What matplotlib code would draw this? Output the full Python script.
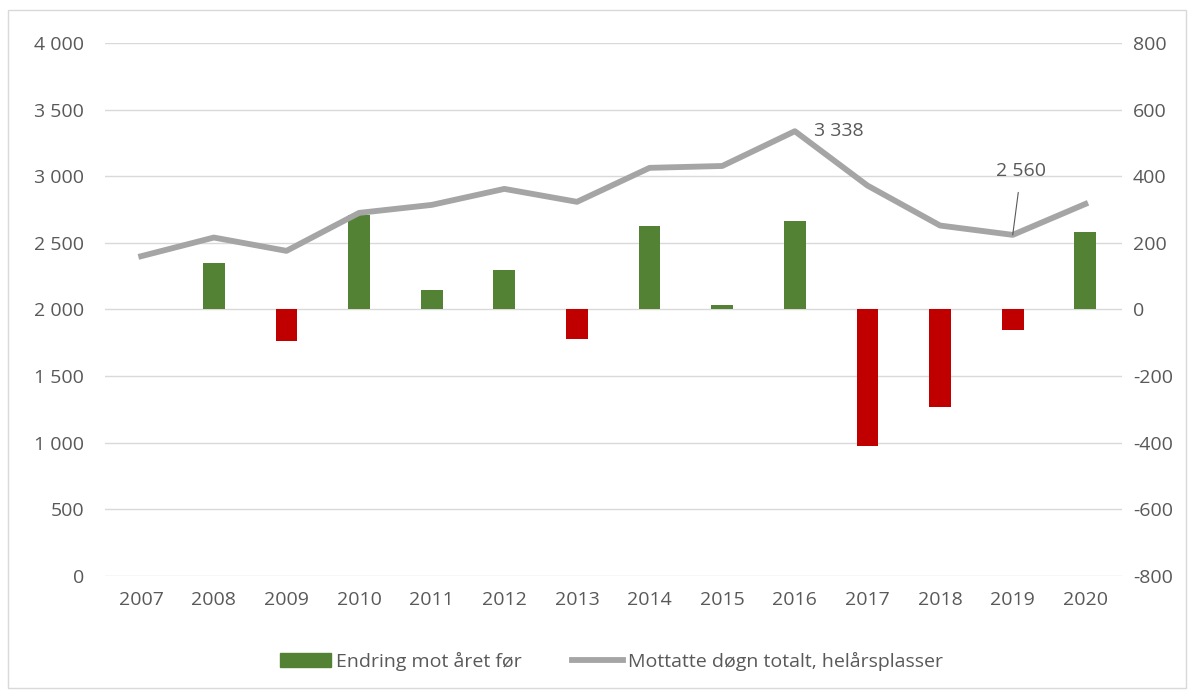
import matplotlib.pyplot as plt
from matplotlib.ticker import FuncFormatter, MultipleLocator
from matplotlib.patches import Rectangle

years = ["2007", "2008", "2009", "2010", "2011", "2012", "2013",
         "2014", "2015", "2016", "2017", "2018", "2019", "2020"]
totals = [2400, 2540, 2440, 2725, 2785, 2905, 2808,
          3063, 3077, 3338, 2930, 2630, 2560, 2792]
change = [None, 140, -95, 285, 60, 120, -90,
          250, 15, 265, -410, -293, -63, 232]

green = "#548235"
red = "#C00000"
gray = "#A5A5A5"
txt = "#595959"
fs = 14

plt.rcParams["font.family"] = ["Open Sans", "DejaVu Sans"]

fig = plt.figure(figsize=(11.92, 6.91), dpi=100)
fig.patches.append(Rectangle((0.007, 0.005), 0.988, 0.98, transform=fig.transFigure,
                             fill=False, edgecolor="#D9D9D9", linewidth=1))

ax = fig.add_axes([0.088, 0.1664, 0.853, 0.7714])
ax2 = ax.twinx()

x = list(range(len(years)))
bx = [i for i, v in zip(x, change) if v is not None]
bv = [v for v in change if v is not None]
ax2.bar(bx, bv, width=0.3, color=[green if v >= 0 else red for v in bv], zorder=2)

ax.plot(x, totals, color=gray, linewidth=4.2, zorder=3)
ax.set_zorder(ax2.get_zorder() + 1)
ax.patch.set_visible(False)

ax.set_ylim(0, 4000)
ax2.set_ylim(-800, 800)
ax.set_xlim(-0.5, len(years) - 0.5)
ax.yaxis.set_major_locator(MultipleLocator(500))
ax2.yaxis.set_major_locator(MultipleLocator(200))
fmt = FuncFormatter(lambda v, p: f"{int(v):,}".replace(",", " "))
ax.yaxis.set_major_formatter(fmt)
ax2.yaxis.set_major_formatter(FuncFormatter(lambda v, p: f"{int(v)}"))
ax.set_xticks(x)
ax.set_xticklabels(years)

ax2.grid(axis="y", color="#D9D9D9", linewidth=1)
ax2.set_axisbelow(True)
for a in (ax, ax2):
    for s in a.spines.values():
        s.set_visible(False)
    a.tick_params(length=0, labelsize=fs, labelcolor=txt)
ax.tick_params(axis="y", pad=15)
ax2.tick_params(axis="y", pad=8)
ax.tick_params(axis="x", pad=11)

i16 = years.index("2016")
ax.annotate(f"{totals[i16]:,}".replace(",", " "), (x[i16], totals[i16]),
            xytext=(14, 0), textcoords="offset points", ha="left", va="center",
            fontsize=fs, color=txt)
i19 = years.index("2019")
ax.annotate(f"{totals[i19]:,}".replace(",", " "), (x[i19], totals[i19]),
            xytext=(6, 46), textcoords="offset points", ha="center", va="center",
            fontsize=fs, color=txt,
            arrowprops=dict(arrowstyle="-", color=txt, lw=0.8, shrinkA=7, shrinkB=0))

h1 = Rectangle((0, 0), 1, 1, color=green)
h2 = plt.Line2D([], [], color=gray, linewidth=4.2)
fig.legend([h1, h2], ["Endring mot året før", "Mottatte døgn totalt, helårsplasser"],
           loc="center", bbox_to_anchor=(0.513, 0.043), ncol=2, frameon=False,
           fontsize=fs, labelcolor=txt, handlelength=2.6, handleheight=0.8,
           handletextpad=0.25, columnspacing=2.6)

fig.savefig("out.png", dpi=100)
